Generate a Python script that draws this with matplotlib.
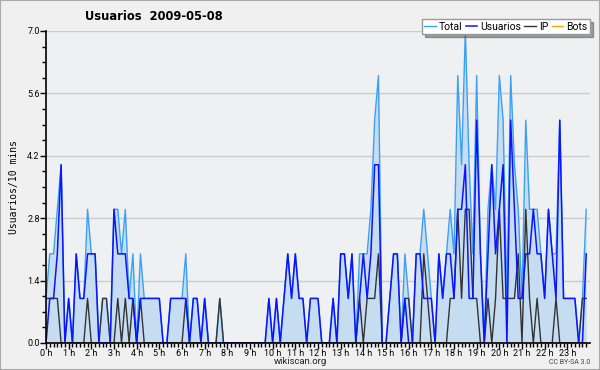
import matplotlib
matplotlib.use('Agg')
import matplotlib.pyplot as plt
from matplotlib.patches import Rectangle
import numpy as np

# values per 10 minute slot, 2009-05-08
usuarios = [0, 1, 1, 2, 4, 0, 1, 0, 2, 1, 1, 2, 2, 2, 0, 0, 0, 0, 3, 2, 2, 2, 1, 1, 0,
            1, 1, 1, 1, 1, 1, 0, 0, 1, 1, 1, 1, 1, 0, 1, 1, 0, 1, 0, 0, 0, 0, 0,
            0, 0, 0, 0, 0, 0, 0, 0, 0, 0, 0,
            1, 0, 1, 0, 1, 2, 1, 2, 1, 1, 0, 1, 1, 1,
            0, 0, 0, 1, 0, 2, 2, 1, 2, 0,
            1, 2, 1, 2, 4, 4, 0, 0, 1, 2, 2, 0, 1,
            0, 0, 2, 2, 1, 1, 1, 0, 2, 1, 2, 2, 1,
            3, 3, 4, 1, 1, 5, 2, 0, 2, 4, 2, 3, 4, 0, 5,
            3, 1, 1, 2, 2, 3, 2, 2, 1, 3, 2, 1, 5, 1, 1, 1, 1, 0, 0, 2]
ip = [1, 1, 1, 1, 0, 0, 0, 0, 0, 0, 0, 1, 0, 0, 0, 1, 1, 0, 0, 1, 0, 1, 0, 1, 0,
      1, 0, 0, 0, 0, 0, 0, 0, 0, 0, 0, 0, 1, 0, 0, 0, 0, 0, 0, 0, 0, 1, 0,
      0, 0, 0, 0, 0, 0, 0, 0, 0, 0, 0,
      0, 0, 0, 0, 0, 0, 0, 0, 0, 0, 0, 0, 0, 0,
      0, 0, 0, 0, 0, 0, 0, 0, 0, 0,
      1, 0, 1, 1, 1, 2, 0, 0, 0, 0, 0, 0, 1,
      1, 0, 0, 0, 2, 1, 0, 0, 0, 0, 0, 1, 1,
      3, 1, 3, 3, 1, 1, 0, 0, 1, 0, 1, 3, 1, 1, 1,
      1, 2, 0, 3, 1, 0, 1, 0, 0, 0, 0, 1, 0, 0, 0, 0, 0, 0, 1, 1]
total = [1, 2, 2, 3, 4, 0, 1, 0, 2, 1, 1, 3, 2, 2, 0, 1, 1, 0, 3, 3, 2, 3, 1, 2, 0,
         2, 1, 1, 1, 1, 1, 0, 0, 1, 1, 1, 1, 2, 0, 1, 1, 0, 1, 0, 0, 0, 1, 0,
         0, 0, 0, 0, 0, 0, 0, 0, 0, 0, 0,
         1, 0, 1, 0, 1, 2, 1, 2, 1, 1, 0, 1, 1, 1,
         0, 0, 0, 1, 0, 2, 2, 1, 2, 0,
         2, 2, 2, 3, 5, 6, 0, 0, 1, 2, 2, 0, 2,
         1, 0, 2, 2, 3, 2, 1, 0, 2, 1, 2, 3, 2,
         6, 4, 7, 4, 2, 6, 2, 0, 3, 4, 3, 6, 5, 1, 6,
         4, 3, 1, 5, 3, 3, 3, 2, 1, 3, 2, 2, 5, 1, 1, 1, 1, 0, 1, 3]
bots = [0] * 144

hour_labels = ['%d h' % h for h in range(24)]
y_ticks = [0.0, 1.4, 2.8, 4.2, 5.6, 7.0]

narrow = ['Roboto', 'DejaVu Sans']

# slot index -> hours
x = np.arange(len(total)) / 6.0

fig = plt.figure(figsize=(6, 3.7), dpi=100, facecolor='#f0f0f0')
ax = fig.add_axes([46 / 600, 1 - 343 / 370, 544 / 600, 312 / 370])
ax.set_facecolor('#eef0f2')

ax.fill_between(x, total, 0, color='#c6ddf1', linewidth=0, zorder=1)
ax.plot(x, bots, color='#ffa500', linewidth=1, label='Bots', zorder=1.5)
ax.plot(x, total, color='#3ca0f5', linewidth=1, label='Total', zorder=2)
ax.plot(x, ip, color='#333333', linewidth=1, label='IP', zorder=2.1)
ax.plot(x, usuarios, color='#0a14ff', linewidth=1.1, label='Usuarios', zorder=2.2)

ax.set_xlim(0, 24)
ax.set_ylim(0, 7.0)
ax.set_xticks(range(24))
ax.set_xticklabels(hour_labels, family=narrow, fontsize=6.5)
ax.set_xticks(np.arange(0, 24, 1 / 6.0), minor=True)
ax.set_yticks(y_ticks)
ax.set_yticklabels(['%.1f' % v for v in y_ticks], family=narrow, fontsize=6.5)
ax.set_yticks(np.arange(0, 7.01, 0.35), minor=True)
ax.tick_params(axis='both', which='major', length=4, width=1,
               pad=0.5, colors='black')
ax.tick_params(axis='both', which='minor', length=3, width=1)

ax.grid(axis='y', color='#cccccc', linewidth=1)
ax.grid(axis='x', visible=False)
ax.set_axisbelow(True)
for s in ['top', 'right']:
    ax.spines[s].set_visible(False)
ax.spines['left'].set_linewidth(1.2)
ax.spines['bottom'].set_linewidth(1.2)

ax.set_ylabel('Usuarios/10 mins', fontsize=7, family='DejaVu Sans Mono', labelpad=6)

fig.text(85 / 600, 1 - 17 / 370, 'Usuarios  2009-05-08', fontsize=8.3,
         fontweight='bold', va='center', ha='left')

handles, labels = ax.get_legend_handles_labels()
order = [labels.index(n) for n in ['Total', 'Usuarios', 'IP', 'Bots']]
leg = fig.legend([handles[i] for i in order], [labels[i] for i in order],
                 loc='upper right', bbox_to_anchor=(590 / 600, 1 - 19 / 370),
                 ncol=4, frameon=True, fancybox=False, shadow=True,
                 prop={'family': narrow, 'size': 7.5},
                 handlelength=1.1, handletextpad=0.3, columnspacing=0.3,
                 borderpad=0.25, borderaxespad=0)
leg.get_frame().set_edgecolor('#999999')
leg.get_frame().set_facecolor('white')

fig.text(300 / 600, 1 - 362 / 370, 'wikiscan.org', fontsize=6.8, family=narrow,
         ha='center', va='center', color='#222222')
fig.text(590 / 600, 1 - 363 / 370, 'CC BY-SA 3.0', fontsize=5, family=narrow,
         ha='right', va='center', color='#444444')

fig.patches.append(Rectangle((0, 0), 1, 1, transform=fig.transFigure,
                             fill=False, edgecolor='#aaaaaa', linewidth=1.5))

fig.savefig('out.png', dpi=100, facecolor=fig.get_facecolor())
